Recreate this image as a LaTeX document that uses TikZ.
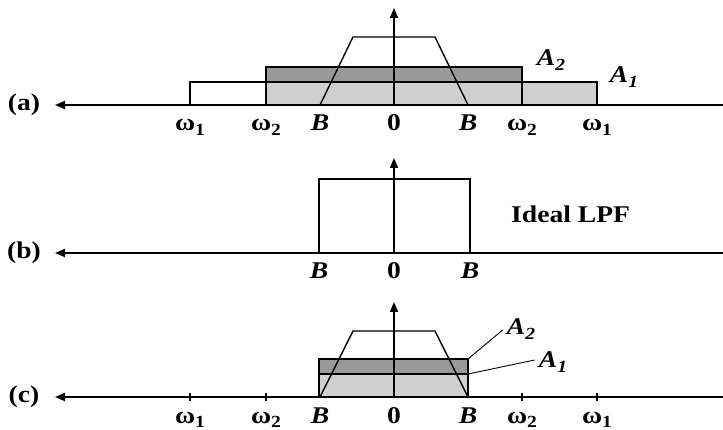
\documentclass[tikz,border=0pt]{standalone}
\usepackage{fontspec}
\setmainfont[FakeStretch=1.15]{Liberation Serif}
\usetikzlibrary{arrows.meta,positioning}

\newcommand\lowsub[1]{\raisebox{-0.42ex}{\fontsize{17}{17}\selectfont #1}}

\begin{document}
\begin{tikzpicture}[
  x=1pt,y=-1pt,
  >={Triangle[length=10pt,width=8pt]},
  axis/.style={line width=1.8pt},
  outl/.style={line width=1.4pt},
  lpf/.style={line width=2.6pt},
  lead/.style={line width=0.9pt},
  lightfill/.style={fill=black!19},
  darkfill/.style={fill=black!40},
  lab/.style={font=\fontsize{24}{26}\selectfont\bfseries,inner sep=0pt}
]
\useasboundingbox (0,0) rectangle (723,430);

% rows and centre line
\def\ya{105}
\def\yb{253}
\def\yc{397}
\def\xo{394}

% ===================== (a): spectra before filtering =====================
\fill[lightfill] (266,\ya) rectangle (597,\ya-23);
\fill[darkfill] (266,\ya-23) rectangle (522,\ya-38);
\draw[outl] (190,\ya) -- (190,\ya-23) -- (597,\ya-23) -- (597,\ya);
\draw[outl] (266,\ya) -- (266,\ya-38) -- (522,\ya-38) -- (522,\ya);
\draw[outl] (320,\ya) -- (353,\ya-68) -- (435,\ya-68) -- (468,\ya);

\coordinate (aL) at (55,\ya);
\coordinate (aR) at (737,\ya);
\coordinate (a0) at (\xo,\ya);
\coordinate (aT) at (\xo,8);
\draw[axis,<->] (aL) -- (aR);
\draw[axis,->] (a0) -- (aT);

\node[lab] (pa) at (24,\ya) {(a)};
\node[lab] (A2a) at (551,60) {\itshape A\lowsub2};
\node[lab] (A1a) at (624,77) {\itshape A\lowsub1};

\foreach \xx/\tx [count=\k] in {190/{ω\lowsub1},266/{ω\lowsub2},320/{\itshape B},394/0,
                               468/{\itshape B},522/{ω\lowsub2},597/{ω\lowsub1}}
  \node[lab,anchor=base] (ta\k) at (\xx,\ya+26) {\tx};

% ===================== (b): ideal low-pass filter =====================
\draw[lpf] (319,\yb) -- (319,\yb-74) -- (470,\yb-74) -- (470,\yb);

\coordinate (bL) at (55,\yb);
\coordinate (bR) at (737,\yb);
\coordinate (b0) at (\xo,\yb);
\coordinate (bT) at (\xo,158);
\draw[axis,<->] (bL) -- (bR);
\draw[axis,->] (b0) -- (bT);

\node[lab] (pb) at (24,\yb) {(b)};
\node[lab,anchor=west] (lpfl) at (511,214) {Ideal LPF};

\foreach \xx/\tx [count=\k] in {319/{\itshape B},394/0,470/{\itshape B}}
  \node[lab,anchor=base] (tb\k) at (\xx,\yb+26) {\tx};

% ===================== (c): after filtering =====================
\fill[lightfill] (319,\yc) rectangle (468,\yc-23);
\fill[darkfill] (319,\yc-23) rectangle (468,\yc-38);
\draw[outl] (319,\yc) rectangle (468,\yc-38);
\draw[outl] (319,\yc-23) -- (468,\yc-23);
\draw[outl] (320,\yc) -- (353,\yc-66) -- (435,\yc-66) -- (468,\yc);

\coordinate (cL) at (55,\yc);
\coordinate (cR) at (737,\yc);
\coordinate (c0) at (\xo,\yc);
\coordinate (cT) at (\xo,302);
\draw[axis,<->] (cL) -- (cR);
\draw[axis,->] (c0) -- (cT);

\foreach \xx in {190,266,522,597}
  \draw[outl] (\xx,\yc-4) -- (\xx,\yc+4);

\node[lab] (pc) at (24,\yc) {(c)};
\node[lab] (A2c) at (521,329) {\itshape A\lowsub2};
\node[lab] (A1c) at (553,362) {\itshape A\lowsub1};

\coordinate (c2) at (468,\yc-38);
\coordinate (c1) at (468,\yc-23);
\draw[lead] (c2) -- ([xshift=-4pt,yshift=-1pt]A2c.west);
\draw[lead] (c1) -- ([xshift=-4pt,yshift=2pt]A1c.west);

\foreach \xx/\tx [count=\k] in {190/{ω\lowsub1},266/{ω\lowsub2},320/{\itshape B},394/0,
                               468/{\itshape B},522/{ω\lowsub2},597/{ω\lowsub1}}
  \node[lab,anchor=base] (tc\k) at (\xx,\yc+26) {\tx};

\end{tikzpicture}
\end{document}
